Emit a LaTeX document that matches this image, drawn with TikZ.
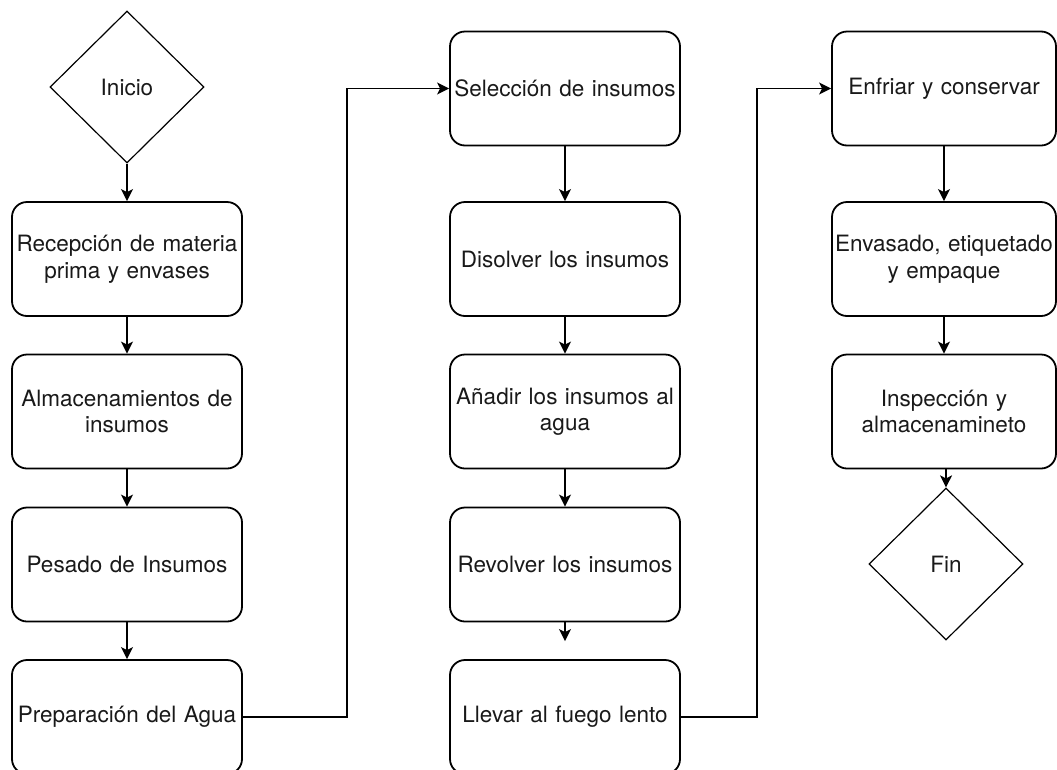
\documentclass[tikz,border=0pt]{standalone}
\usepackage{fontspec}
\setmainfont{TeX Gyre Heros}
\usetikzlibrary{shapes.geometric,arrows.meta,calc}
\begin{document}
\begin{tikzpicture}[x=1pt,y=-1pt,
  every node/.style={font=\fontsize{22.5}{26.5}\selectfont, text=black!90},
  stepbox/.style={draw, line width=1.8pt, rounded corners=15pt,
    minimum width=230pt, minimum height=114pt, text width=228pt,
    align=center, inner sep=0pt},
  narrowbox/.style={stepbox, minimum width=224pt, text width=222pt},
  term/.style={draw, line width=1.2pt, diamond, aspect=1,
    minimum width=154pt, minimum height=152pt, inner sep=0pt},
  arr/.style={line width=1.6pt, -{Stealth[length=12pt,width=12pt,inset=3pt]}},
  link/.style={line width=1.6pt, -{Stealth[length=12pt,width=12pt,inset=3pt]}}
]
\useasboundingbox (0,0) rectangle (1057,769);

% first column
\node[term] (ini) at (127,87) {Inicio};
\node[stepbox] (rec) at (127,259) {Recepción de materia\\prima y envases};
\node[stepbox] (alm) at (127,411.5) {Almacenamientos de\\insumos};
\node[stepbox] (pes) at (127,564.5) {Pesado de Insumos};
\node[stepbox] (agu) at (127,717) {Preparación del Agua};

% second column
\node[stepbox] (sel) at (565,88.5) {Selección de insumos};
\node[stepbox] (dis) at (565,259) {Disolver los insumos};
\node[stepbox] (ana) at (565,411.5) {Añadir los insumos al\\agua};
\node[stepbox] (rev) at (565,564.5) {Revolver los insumos};
\node[stepbox] (fue) at (565,717) {Llevar al fuego lento};

% third column
\node[narrowbox] (enf) at (944,88.5) {Enfriar y conservar};
\node[narrowbox] (env) at (944,259) {Envasado, etiquetado\\y empaque};
\node[narrowbox] (ins) at (944,411.5) {Inspección y\\almacenamineto};
\node[term] (fin) at (946,564) {Fin};

% vertical flow
\draw[arr] (ini) -- (rec);
\draw[arr] (rec) -- (alm);
\draw[arr] (alm) -- (pes);
\draw[arr] (pes) -- (agu);
\draw[arr] (sel) -- (dis);
\draw[arr] (dis) -- (ana);
\draw[arr] (ana) -- (rev);
\draw[arr, shorten >=18pt] (rev) -- (fue);
\draw[arr] (enf) -- (env);
\draw[arr] (env) -- (ins);
\draw[arr] (ins.south -| fin.north) -- (fin.north);

% column changes
\coordinate (j1) at (347,0);
\coordinate (j2) at (757,0);
\draw[link] (agu.east) -- (agu.east -| j1) |- (sel.west);
\draw[link] (fue.east) -- (fue.east -| j2) |- (enf.west);
\end{tikzpicture}
\end{document}
